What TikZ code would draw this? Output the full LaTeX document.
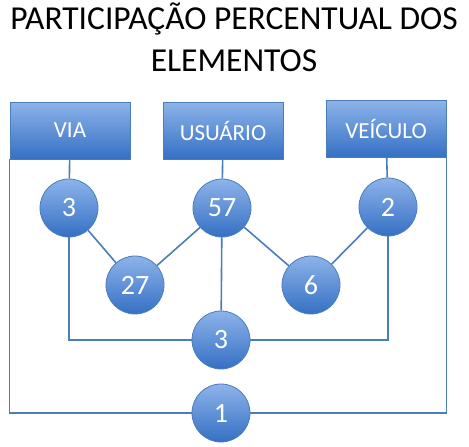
\documentclass[tikz,border=0pt]{standalone}
\usepackage{fontspec}
\setmainfont{Carlito}
\usetikzlibrary{positioning}
\definecolor{boxtop}{HTML}{8DB3EA}
\definecolor{boxbot}{HTML}{3570C4}
\definecolor{edgeblue}{HTML}{4A7EBB}
\tikzset{
  elem/.style={rectangle, draw=edgeblue, top color=boxtop, bottom color=boxbot, thick, minimum width=120pt, minimum height=57pt, inner sep=1pt, text=white, font=\fontsize{23}{25}\selectfont},
  part/.style={circle, draw=edgeblue, top color=boxtop, bottom color=boxbot, thick, minimum size=58pt, inner sep=1pt, text=white, font=\fontsize{28}{30}\selectfont},
  link/.style={edgeblue, line width=1.6pt}
}

\begin{document}
\begin{tikzpicture}[x=1pt, y=-1pt]
  \useasboundingbox (0,0) rectangle (469,447);
  \node[align=center, font=\fontsize{33.5}{42}\selectfont] (title) at (234,37) {PARTICIPAÇÃO PERCENTUAL DOS\\ELEMENTOS};
  \node[elem] (via) at (70,130.5) {VIA};
  \node[elem] (usuario) at (223,130.5) {USUÁRIO};
  \node[elem] (veiculo) at (386,129) {VEÍCULO};
  \node[part] (c3) at (69,208) {3};
  \node[part] (c57) at (222,208) {57};
  \node[part] (c2) at (388,207) {2};
  \node[part] (c27) at (135,285) {27};
  \node[part] (c6) at (311,285) {6};
  \node[part] (b3) at (221,340) {3};
  \node[part] (b1) at (221,413) {1};
  \draw[link] (via) -- (c3); \draw[link] (usuario) -- (c57); \draw[link] (veiculo) -- (c2);
  \draw[link] (c3) -- (c27); \draw[link] (c57) -- (c27);
  \draw[link] (c57) -- (c6); \draw[link] (c2) -- (c6);
  \draw[link] (c57) -- (b3);
  \draw[link] (c3) |- (b3); \draw[link] (c2) |- (b3);
  \draw[link] (via.south west) |- (b1); \draw[link] (veiculo.south east) |- (b1);
\end{tikzpicture}
\end{document}
